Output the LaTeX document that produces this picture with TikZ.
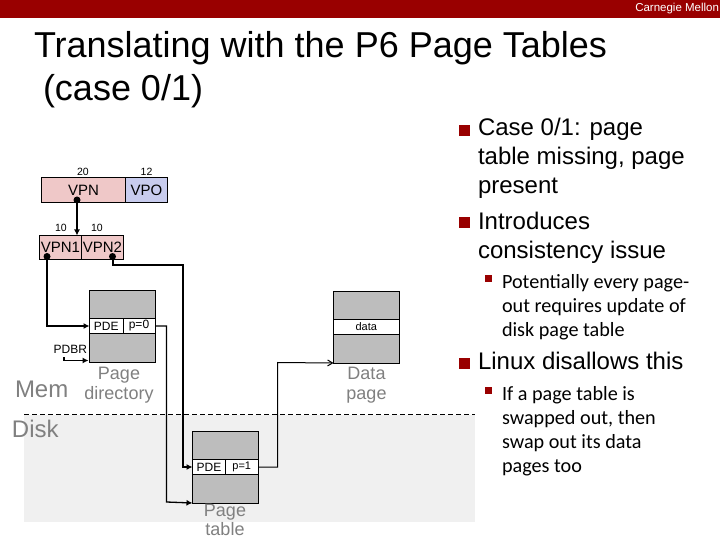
\documentclass[tikz,border=0pt]{standalone}
\usepackage{fontspec}
\setmainfont{Liberation Sans}
\newfontfamily\calib{Carlito}
\usetikzlibrary{arrows.meta}
\definecolor{cmured}{HTML}{990000}
\definecolor{pinkbox}{HTML}{EFC8C8}
\definecolor{bluebox}{HTML}{C8CCEE}
\definecolor{graybox}{HTML}{BDBDBD}
\definecolor{disk}{HTML}{F0F0F0}
\definecolor{lbl}{HTML}{808080}
\newcommand{\fsz}[2]{\fontsize{#1}{#2}\selectfont}
\tikzset{
  every node/.style={inner sep=0pt,outer sep=0pt},
  field/.style={draw=black,line width=0.9pt,anchor=north west},
  row/.style={draw=black,fill=white,line width=0.9pt,anchor=north west},
  pagebox/.style={draw=black,fill=graybox,line width=1pt,anchor=north west,minimum width=65.5pt,minimum height=71.5pt},
  thick link/.style={line width=2pt,-{Latex[length=6pt,width=6pt]}},
  thin link/.style={line width=1.3pt,-{Latex[length=6pt,width=6pt]}},
  dot/.style={circle,fill=black,minimum size=7pt},
  tiny label/.style={font=\fsz{10.5}{12}},
  gray mid/.style={text=lbl,font=\fsz{18}{19.5},align=center},
  bul/.style={font=\fsz{24}{29},anchor=west,align=left},
  subbul/.style={font=\calib\fsz{20.2}{24},anchor=west,align=left},
  redsq/.style={fill=cmured,minimum size=11pt,anchor=center},
  redsm/.style={fill=cmured,minimum size=7pt,anchor=center},
}
\begin{document}
\begin{tikzpicture}[x=1pt,y=-1pt]
\useasboundingbox (0,0) rectangle (720,540);
\fill[white] (0,0) rectangle (720,540);
% header
\fill[cmured] (0,0) rectangle (720,18);
\node[text=white,font=\fsz{11.5}{12},anchor=east] (brand) at (719,8.5) {Carnegie Mellon};
% title
\node[font=\fsz{36}{40},anchor=west] (t1) at (34,48) {Translating with the P6 Page Tables};
\node[font=\fsz{36}{40},anchor=west] (t2) at (43,91) {(case 0/1)};
% disk region
\fill[disk] (24,415) rectangle (475,522);
\coordinate (dl) at (24,414.5);
\coordinate (dr) at (475,414.5);
\draw[line width=0.9pt,dash pattern=on 5pt off 3pt] (dl) -- (dr);
% VPN
\node[tiny label] (n20) at (83,172) {20};
\node[tiny label] (n12) at (146.5,172) {12};
\node[field,fill=pinkbox,minimum width=84pt,minimum height=25pt,font=\fsz{15}{16}] (vpn) at (41.5,177.5) {VPN};
\node[field,fill=bluebox,minimum width=42pt,minimum height=25pt,font=\fsz{15}{16}] (vpo) at (125.5,177.5) {VPO};
\node[tiny label] (n10a) at (61,228) {10};
\node[tiny label] (n10b) at (97,228) {10};
\node[field,fill=pinkbox,minimum width=42pt,minimum height=24pt,font=\fsz{15}{16}] (vpnA) at (39.5,235.5) {VPN1};
\node[field,fill=pinkbox,minimum width=42pt,minimum height=24pt,font=\fsz{15}{16}] (vpnB) at (81.5,235.5) {VPN2};
% Page directory
\node[pagebox] (pd) at (89.5,290.5) {};
\node[row,minimum width=33.5pt,minimum height=15pt,font=\fsz{12}{13}] (pde1) at (89.5,318.5) {PDE};
\node[row,minimum width=32pt,minimum height=15pt,font=\fsz{12}{13}] (p0) at (123,318.5) {p=0};
\node[font=\fsz{12}{13},anchor=east] (pdbr) at (87,349.5) {PDBR};
\coordinate (pdbrs) at (64,357);
\coordinate (pdbrc) at (64,360.5);
\coordinate (pdbre) at (88.5,360.5);
\node[gray mid] (pdl) at (119,385) {Page\\directory};
\node[font=\fsz{24}{26},text=lbl,anchor=west] (mem) at (15,389) {Mem};
\node[font=\fsz{24}{26},text=lbl,anchor=west] (dsk) at (12,429) {Disk};
% Data page
\node[pagebox] (dp) at (333.5,291.5) {};
\node[row,minimum width=65.5pt,minimum height=15pt,font=\fsz{11}{12}] (dat) at (333.5,319.5) {data};
\node[gray mid] (dpl) at (366.5,385) {Data\\page};
% Page table
\node[pagebox] (pt) at (192.5,431.5) {};
\node[row,minimum width=33pt,minimum height=15pt,font=\fsz{12}{13}] (pde2) at (192.5,459.5) {PDE};
\node[row,minimum width=32.5pt,minimum height=15pt,font=\fsz{11}{12}] (p1) at (225.5,459.5) {p=1};
\node[gray mid,anchor=south] (ptl) at (225,536) {Page\\table};
% connectors
\node[dot] (d1) at (77,200) {};
\node[dot] (d2) at (47,256.5) {};
\node[dot] (d3) at (112.5,256.5) {};
\draw[thick link] (d1.center) -- (d1.center |- vpnA.north);
\draw[thick link] (d2.center) |- (pd.west |- pde1.west);
\coordinate (c1) at (183,265);
\draw[thick link] (d3.center) |- (c1) |- (pde2.west);
\coordinate (c2) at (166.5,502);
\draw[thin link] (p0.east) -| (c2) -- (pt.south west);
\coordinate (c3) at (277.5,362.5);
\draw[line width=1pt,-{Straight Barb[length=5pt,width=6pt]}] (p1.east) -| (c3) -- (dp.south west);
\draw[thin link] (pdbrs) -- (pdbrc) -- (pdbre);
% bullets
\node[redsq] (b1) at (464.5,130.5) {};
\node[bul] (bt1) at (478,158) {Case 0/1: page\\table missing, page\\present};
\node[redsq] (b2) at (464.5,223) {};
\node[bul] (bt2) at (478,238) {Introduces\\consistency issue};
\node[redsm] (b3) at (488.5,278.5) {};
\node[subbul] (st1) at (502,307.5) {Potentially every page-\\out requires update of\\disk page table};
\node[redsq] (b4) at (464.5,363.5) {};
\node[bul] (bt3) at (478,361) {Linux disallows this};
\node[redsm] (b5) at (488.5,390.5) {};
\node[subbul] (st2) at (502,431) {If a page table is\\swapped out, then\\swap out its data\\pages too};
\end{tikzpicture}
\end{document}
